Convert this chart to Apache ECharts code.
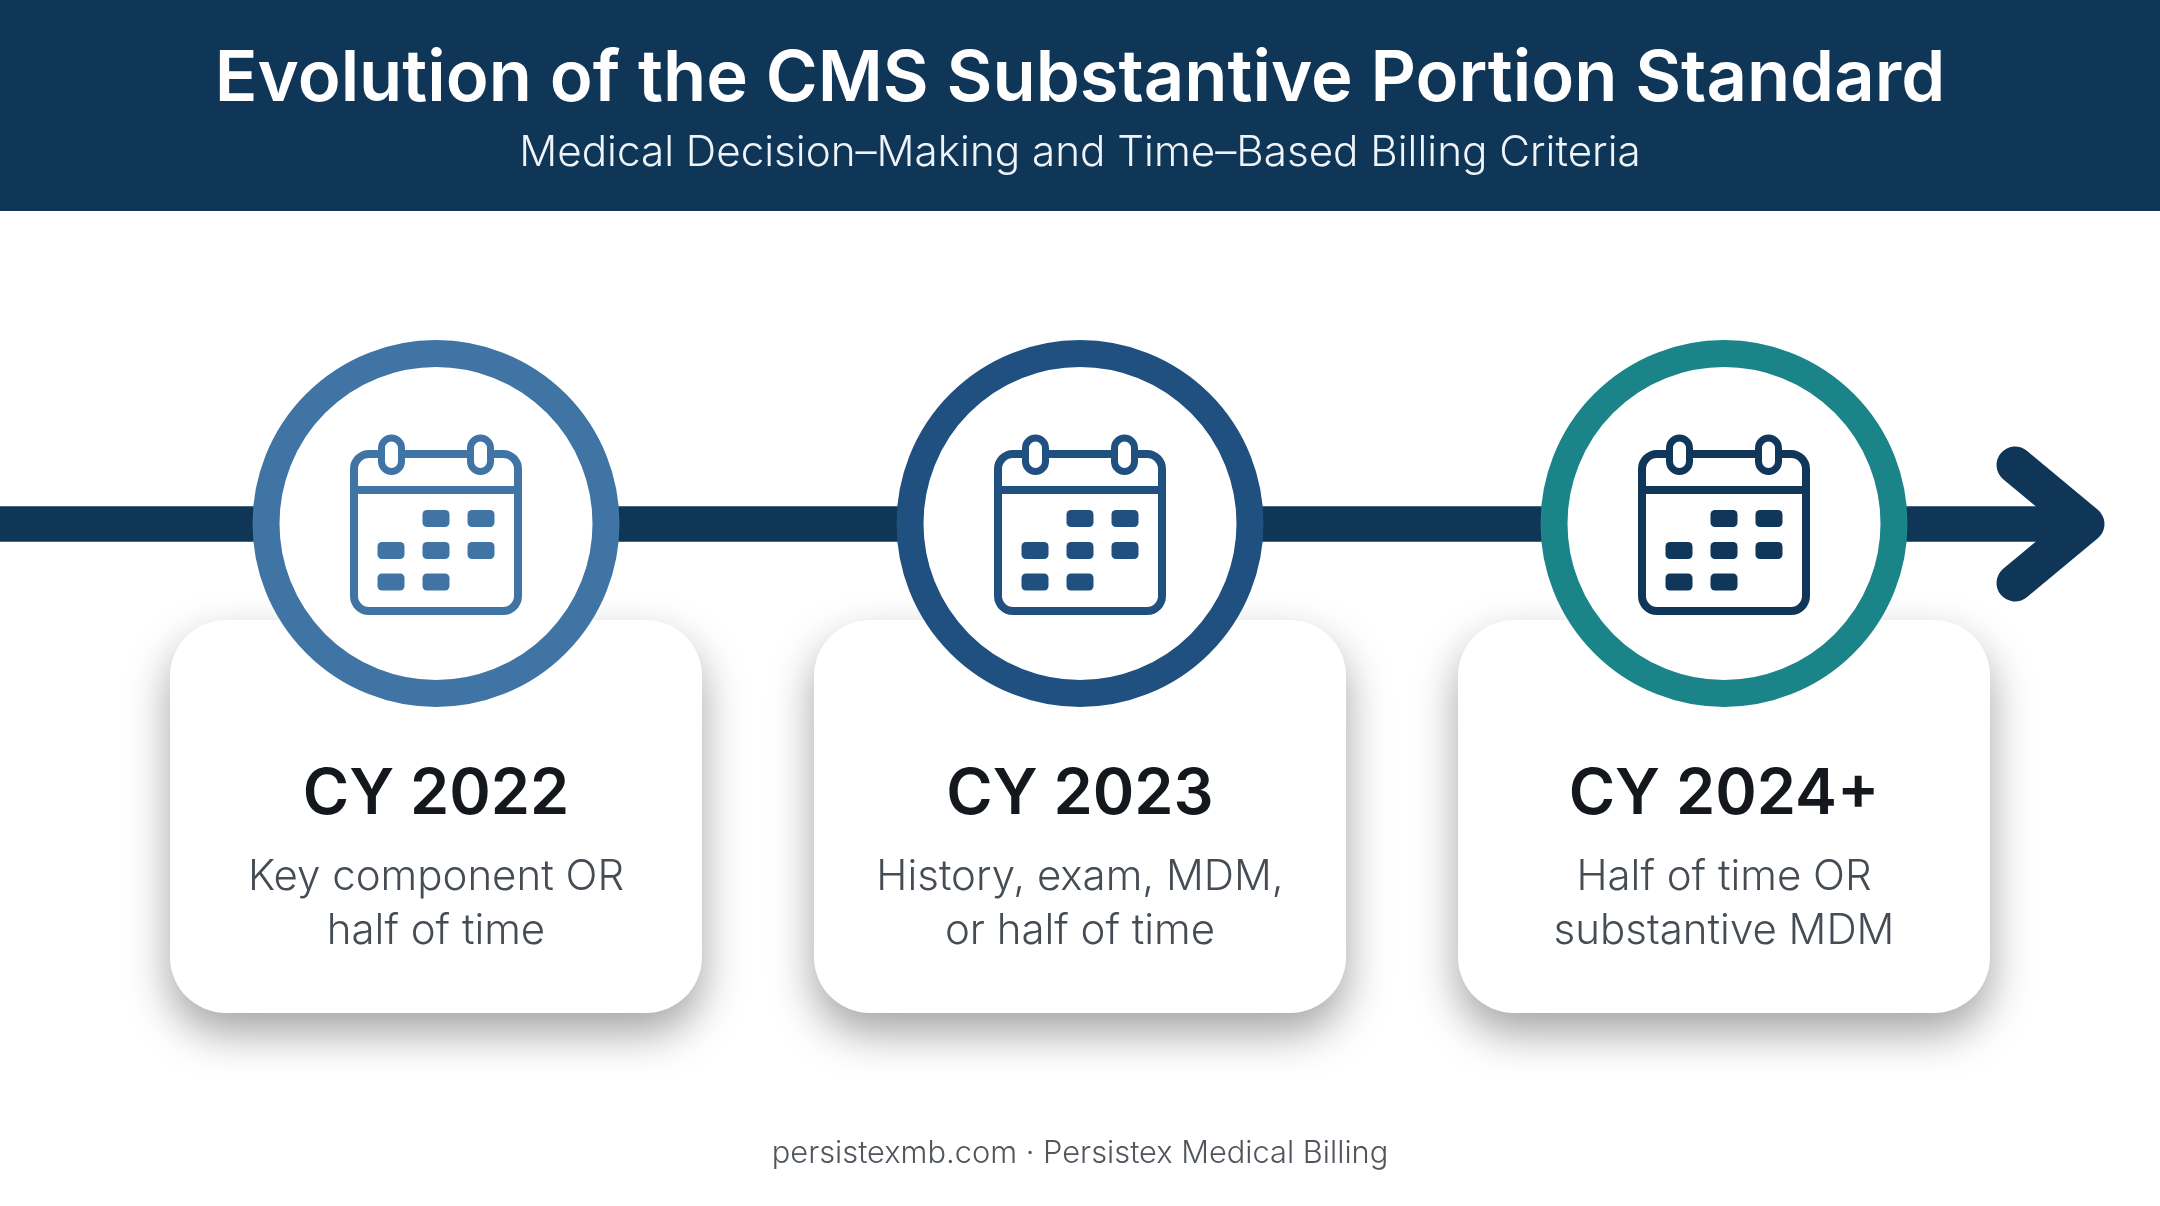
<!DOCTYPE html>
<html><head><meta charset="utf-8">
<style>html,body{margin:0;padding:0;background:#fff}#c{width:2160px;height:1206px}</style>
<script src="https://cdn.jsdelivr.net/npm/echarts@6/dist/echarts.min.js"></script>
</head><body><div id="c"></div>
<script>
const titleText = 'Evolution of the CMS Substantive Portion Standard';
const subtitleText = 'Medical Decision\u2013Making and Time\u2013Based Billing Criteria';
const footerText = 'persistexmb.com \u00b7 Persistex Medical Billing';
const years = ['CY 2022', 'CY 2023', 'CY 2024+'];
const lineOne = ['Key component OR', 'History, exam, MDM,', 'Half of time OR'];
const lineTwo = ['half of time', 'or half of time', 'substantive MDM'];
const ringColors = ['#3f74a5', '#205080', '#1b8489'];
const iconColors = ['#3f74a5', '#205080', '#10375a'];
const calendarCells = [[0,1,1],[1,1,1],[1,1,0]];
const NAVY = '#0f3557', FONT = 'Inter';

const chart = echarts.init(document.getElementById('c'), null, {renderer:'canvas'});

function renderMilestone(params, api){
  const i = api.value(0);
  const [cx, cy] = api.coord([i, 0]);
  const ring = ringColors[i], ic = iconColors[i];
  const kids = [];
  kids.push({type:'rect', z2:1, shape:{x:cx-266,y:620,width:532,height:393,r:56},
    style:{fill:'#fff',shadowBlur:44,shadowOffsetY:20,shadowColor:'rgba(0,0,0,0.36)'}});
  kids.push({type:'circle', z2:2, shape:{cx,cy,r:170}, style:{fill:'#fff',stroke:ring,lineWidth:27}});
  // calendar icon
  kids.push({type:'rect', z2:3, shape:{x:cx-82,y:cy-69.5,width:164,height:157,r:15},
    style:{fill:'#fff',stroke:ic,lineWidth:8}});
  kids.push({type:'line', z2:3, shape:{x1:cx-82,y1:cy-33.5,x2:cx+82,y2:cy-33.5}, style:{stroke:ic,lineWidth:8}});
  [-44.5,44.5].forEach(dx=>{
    kids.push({type:'rect', z2:4, shape:{x:cx+dx-10,y:cy-85.5,width:20,height:33.5,r:10},
      style:{fill:'#fff',stroke:ic,lineWidth:7}});
  });
  calendarCells.forEach((row,r)=>row.forEach((on,c)=>{
    if(!on) return;
    const dx=[-45,0,45][c], dy=[-5,27,58.5][r];
    kids.push({type:'rect', z2:3, shape:{x:cx+dx-13.5,y:cy+dy-8.5,width:27,height:17,r:4.5}, style:{fill:ic}});
  }));
  // card text
  const txt=(t,y,size,weight,col)=>({type:'text', z2:5, style:{text:t,x:cx,y,align:'center',verticalAlign:'middle',
     font:`${weight} ${size}px ${FONT}`,fill:col}});
  kids.push(txt(years[i],795,63,600,'#14181d'));
  kids.push(txt(lineOne[i],877,42,300,'#454c54'));
  kids.push(txt(lineTwo[i],931,42,300,'#454c54'));
  return {type:'group',children:kids};
}

chart.setOption({
  animation:false,
  backgroundColor:'#fff',
  grid:{left:114,width:1932,top:0,height:1047},
  xAxis:{type:'category',data:years,show:false},
  yAxis:{type:'value',min:-1,max:1,show:false},
  title:[
    {text:titleText,left:'center',top:39.5,textStyle:{color:'#fff',fontFamily:FONT,fontWeight:600,fontSize:70.6}},
    {text:subtitleText,left:'center',top:127,textStyle:{color:'#eef4f8',fontFamily:FONT,fontWeight:300,fontSize:42.2}},
    {text:footerText,left:'center',top:1133,textStyle:{color:'#50565c',fontFamily:FONT,fontWeight:350,fontSize:30.8}}
  ],
  graphic:[
    {type:'rect',z:0,shape:{x:0,y:0,width:2160,height:211},style:{fill:NAVY}},
    {type:'line',z:0,shape:{x1:0,y1:524,x2:2070,y2:524},style:{stroke:NAVY,lineWidth:35.5}},
    {type:'polyline',z:0,shape:{points:[[2015,465],[2086,524],[2015,583]]},
      style:{stroke:NAVY,lineWidth:37,fill:'none',lineCap:'round',lineJoin:'round'}}
  ],
  series:[{type:'custom',coordinateSystem:'cartesian2d',silent:true,clip:false,
    encode:{x:0,y:1},renderItem:renderMilestone,
    data:years.map((y,i)=>[i,0])}]
});
</script></body></html>
